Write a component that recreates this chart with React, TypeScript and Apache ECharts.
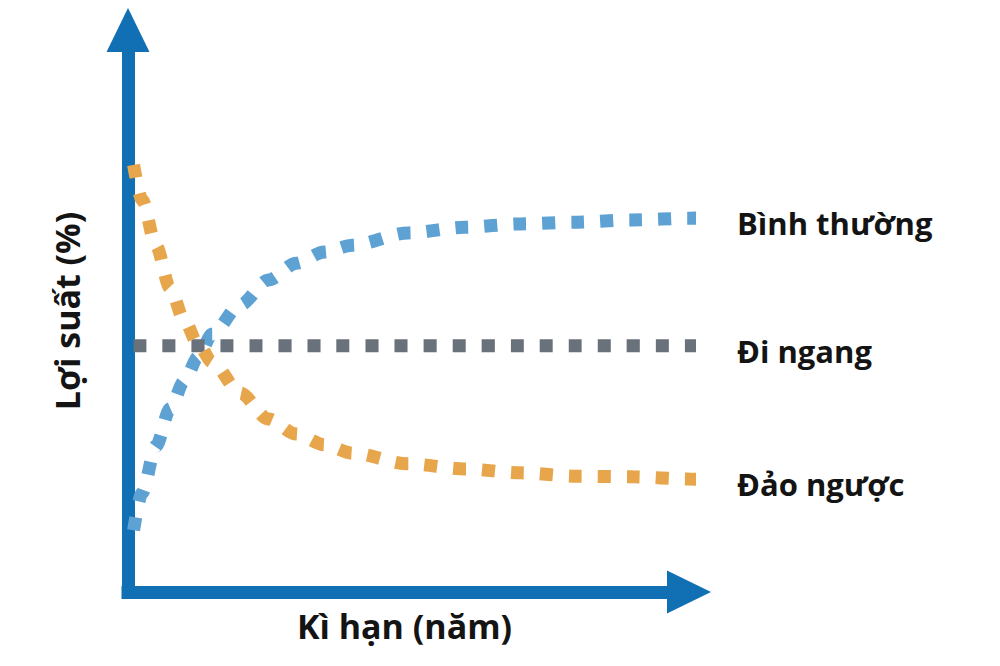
import React, { useEffect, useRef } from 'react';
import * as echarts from 'echarts';

// term (years) and yields (%)
const termYears = [0.1, 0.25, 0.5, 0.75, 1, 1.25, 1.5, 2, 2.5, 3, 3.5, 4, 5, 6, 7, 8, 9, 10, 10.5];
const normalYield = [1.1, 1.76, 2.6, 3.26, 3.75, 4.18, 4.59, 5.11, 5.55, 5.85, 6.05, 6.17, 6.39, 6.49, 6.55, 6.58, 6.62, 6.65, 6.67];
const invertedYield = [7.6, 6.98, 6.16, 5.41, 4.84, 4.41, 4.09, 3.54, 3.08, 2.81, 2.62, 2.47, 2.28, 2.19, 2.12, 2.06, 2.05, 2.01, 1.99];
const flatTerm = [0.1, 10.5];
const flatYield = [4.38, 4.38];

const curveNames = ['Bình thường', 'Đi ngang', 'Đảo ngược'];
const curveColors = ['#5ea2d4', '#69717b', '#e8a64c'];

const FONT = '"Open Sans", "Noto Sans", sans-serif';
const AXIS_COLOR = '#1170b3';

const pairs = (xs: number[], ys: number[]) => xs.map((x, i) => [x, ys[i]]);

const YieldCurveChart: React.FC = () => {
  const chartRef = useRef<HTMLDivElement>(null);

  useEffect(() => {
    if (!chartRef.current) return;
    const chart = echarts.init(chartRef.current, undefined, { renderer: 'svg' });

    const axisLine = {
      show: true,
      symbol: ['none', 'triangle'],
      symbolSize: [43, 44],
      lineStyle: { color: AXIS_COLOR, width: 13, cap: 'square' as const },
    };

    const makeSeries = (name: string, color: string, data: number[][]) => ({
      name,
      type: 'line' as const,
      data,
      showSymbol: false,
      smooth: 0.3,
      smoothMonotone: 'x' as const,
      clip: false,
      lineStyle: { color, width: 13, type: [13, 16], cap: 'butt' as const },
      endLabel: {
        show: true,
        formatter: '{a}',
        distance: 0,
        offset: [41, 5],
        fontSize: 31,
        fontWeight: 'bold' as const,
        fontFamily: FONT,
        color: '#141414',
      },
    });

    const option: echarts.EChartsOption = {
      animation: false,
      backgroundColor: '#ffffff',
      grid: { left: 128, right: 311, top: 30, bottom: 74 },
      xAxis: {
        type: 'value',
        min: 0,
        max: 10,
        z: 3,
        name: 'Kì hạn (năm)',
        nameLocation: 'middle',
        nameGap: 17,
        nameTextStyle: { fontSize: 34, fontWeight: 'bold', fontFamily: FONT, color: '#141414', padding: [0, 8, 0, 0] },
        axisLine,
        axisTick: { show: false },
        axisLabel: { show: false },
        splitLine: { show: false },
      },
      yAxis: {
        type: 'value',
        min: 0,
        max: 10,
        z: 3,
        name: 'Lợi suất (%)',
        nameLocation: 'middle',
        nameGap: 44,
        nameRotate: 90,
        nameTextStyle: { fontSize: 34, fontWeight: 'bold', fontFamily: FONT, color: '#141414' },
        axisLine,
        axisTick: { show: false },
        axisLabel: { show: false },
        splitLine: { show: false },
      },
      series: [
        makeSeries(curveNames[0], curveColors[0], pairs(termYears, normalYield)),
        makeSeries(curveNames[1], curveColors[1], pairs(flatTerm, flatYield)),
        makeSeries(curveNames[2], curveColors[2], pairs(termYears, invertedYield)),
      ],
    };

    chart.setOption(option);

    return () => {
      chart.dispose();
    };
  }, []);

  return (
    <div
      ref={chartRef}
      style={{ position: 'fixed', left: 0, top: 0, width: '1000px', height: '666px' }}
    />
  );
};

export default function App() {
  return <YieldCurveChart />;
}
